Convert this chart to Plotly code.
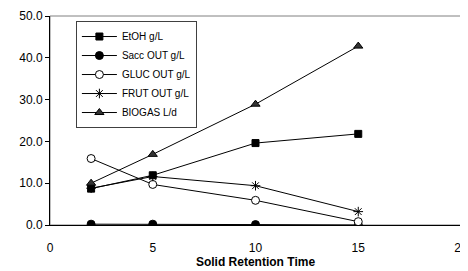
import plotly.graph_objects as go

srt = [2, 5, 10, 15]
etoh = [8.7, 11.9, 19.6, 21.8]
sacc = [0.2, 0.2, 0.1, 0.0]
gluc = [15.9, 9.7, 5.9, 0.8]
frut = [8.8, 11.6, 9.4, 3.2]
biogas = [10.0, 16.9, 28.9, 42.8]

names = ["EtOH g/L", "Sacc OUT g/L", "GLUC OUT g/L", "FRUT OUT g/L", "BIOGAS L/d"]
series = [etoh, sacc, gluc, frut, biogas]
symbols = ["square", "circle", "circle", "asterisk-open", "triangle-up"]
fills = ["black", "black", "white", "black", "#333333"]
sizes = [7, 8, 8, 8, 8]

fig = go.Figure()
for i, (n, y) in enumerate(zip(names, series)):
    fig.add_trace(go.Scatter(
        x=srt, y=y, name=n, mode="lines+markers",
        line=dict(color="black", width=1),
        marker=dict(symbol=symbols[i], size=sizes[i], color=fills[i],
                    line=dict(color="black", width=1)),
        legendgroup=str(i),
    ))

fig.add_shape(type="rect", xref="paper", yref="paper", x0=0, y0=0, x1=1, y1=1,
              line=dict(color="#808080", width=1), layer="below")

# page body has an 8px default margin, so the figure is 460x263 placed at (8,8)
fig.update_layout(
    width=460, height=263,
    margin=dict(l=42, r=7, t=8, b=46, autoexpand=False),
    paper_bgcolor="white", plot_bgcolor="white",
    font=dict(family="Liberation Sans, Arial", color="black", size=12),
    showlegend=True,
    legend=dict(x=0.063, y=0.976, xanchor="left", yanchor="top",
                bgcolor="white", bordercolor="#404040", borderwidth=1,
                font=dict(size=10), tracegroupgap=0, itemwidth=35),
    xaxis=dict(range=[0, 20], dtick=5, showgrid=False, zeroline=False, automargin=False,
               showline=True, linecolor="black", linewidth=1, ticks="",
               ticklabelstandoff=12,
               title=dict(text="<b>Solid Retention Time</b>", font=dict(size=12), standoff=2),
               tickfont=dict(size=12)),
    yaxis=dict(range=[0, 50], dtick=10, tickformat=".1f", showgrid=False, zeroline=False,
               automargin=False,
               showline=True, linecolor="black", linewidth=1, ticks="outside",
               ticklen=4, tickcolor="black", tickfont=dict(size=12)),
)

fig.write_html("out.html")
